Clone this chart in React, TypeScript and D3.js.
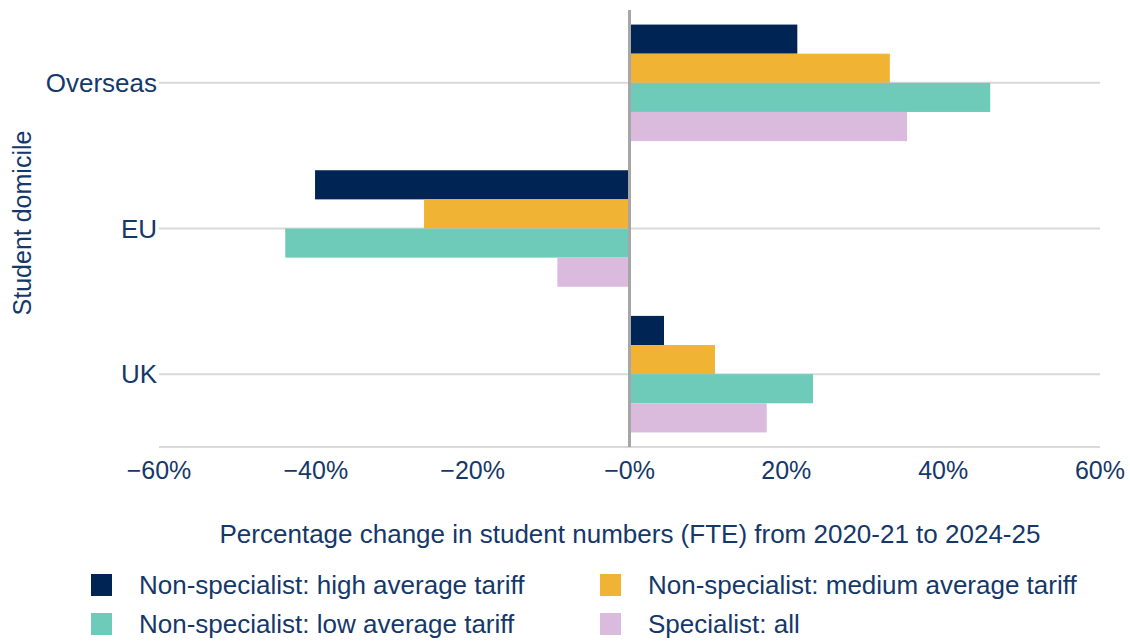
import React from "react";
import * as d3 from "d3";

const categories = ["Overseas", "EU", "UK"];
const seriesNames = [
  "Non-specialist: high average tariff",
  "Non-specialist: medium average tariff",
  "Non-specialist: low average tariff",
  "Specialist: all",
];
const seriesColors = ["#002555", "#F0B334", "#6ECBBA", "#DABBDD"];
// values in % per category, order: high, medium, low, specialist
const highTariff = [21.4, -40.1, 4.4];
const mediumTariff = [33.2, -26.2, 10.9];
const lowTariff = [46.0, -43.9, 23.4];
const specialistAll = [35.4, -9.2, 17.5];
const tickValues = [-60, -40, -20, 0, 20, 40, 60];
const tickLabels = ["−60%", "−40%", "−20%", "−0%", "20%", "40%", "60%"];

const seriesValues = [highTariff, mediumTariff, lowTariff, specialistAll];

const W = 1130;
const H = 641;
const TEXT = "#15386A";
const FONT = "'Liberation Sans', Arial, sans-serif";

export default function App() {
  const x = d3.scaleLinear().domain([-60, 60]).range([159, 1100]);
  const y = d3
    .scaleBand<string>()
    .domain(categories)
    .range([10, 447])
    .paddingInner(0.2)
    .paddingOuter(0.1);
  const inner = d3
    .scaleBand<string>()
    .domain(seriesNames)
    .range([0, y.bandwidth()]);

  const legendPos = [
    { x: 91, y: 574 },
    { x: 600, y: 574 },
    { x: 91, y: 613 },
    { x: 600, y: 613 },
  ];

  return (
    <svg
      width={W}
      height={H}
      style={{ position: "absolute", left: 0, top: 0, background: "#fff" }}
      fontFamily={FONT}
    >
      {/* gridlines */}
      {categories.map((c) => (
        <line
          key={"g" + c}
          x1={159}
          x2={1100}
          y1={y(c)! + y.bandwidth() / 2}
          y2={y(c)! + y.bandwidth() / 2}
          stroke="#D9D9D9"
          strokeWidth={2}
        />
      ))}
      <line x1={159} x2={1100} y1={447} y2={447} stroke="#D9D9D9" strokeWidth={2} />
      {/* bars */}
      {categories.map((c, ci) =>
        seriesNames.map((s, si) => {
          const v = seriesValues[si][ci];
          const x0 = x(Math.min(0, v));
          const x1 = x(Math.max(0, v));
          return (
            <rect
              key={c + s}
              x={x0}
              y={y(c)! + inner(s)!}
              width={x1 - x0}
              height={inner.bandwidth()}
              fill={seriesColors[si]}
            />
          );
        })
      )}
      {/* zero line */}
      <line x1={x(0)} x2={x(0)} y1={10} y2={447} stroke="#A6A6A6" strokeWidth={3} />
      {/* y tick labels */}
      {categories.map((c) => (
        <text
          key={"yl" + c}
          x={157}
          y={y(c)! + y.bandwidth() / 2}
          textAnchor="end"
          dominantBaseline="central"
          fontSize={26}
          fill={TEXT}
        >
          {c}
        </text>
      ))}
      {/* x tick labels */}
      {tickValues.map((t, i) => (
        <text
          key={"xl" + t}
          x={x(t)}
          y={470}
          textAnchor="middle"
          dominantBaseline="central"
          fontSize={25}
          fill={TEXT}
        >
          {tickLabels[i]}
        </text>
      ))}
      {/* axis titles */}
      <text
        x={630}
        y={534}
        textAnchor="middle"
        dominantBaseline="central"
        fontSize={26}
        fill={TEXT}
      >
        Percentage change in student numbers (FTE) from 2020-21 to 2024-25
      </text>
      <text
        transform={`translate(22,223) rotate(-90)`}
        textAnchor="middle"
        dominantBaseline="central"
        fontSize={25}
        fill={TEXT}
      >
        Student domicile
      </text>
      {/* legend */}
      {seriesNames.map((s, i) => (
        <g key={"lg" + s}>
          <rect x={legendPos[i].x} y={legendPos[i].y} width={21} height={22} fill={seriesColors[i]} />
          <text
            x={legendPos[i].x + 48}
            y={legendPos[i].y + 11}
            dominantBaseline="central"
            fontSize={26}
            fill={TEXT}
          >
            {s}
          </text>
        </g>
      ))}
    </svg>
  );
}
